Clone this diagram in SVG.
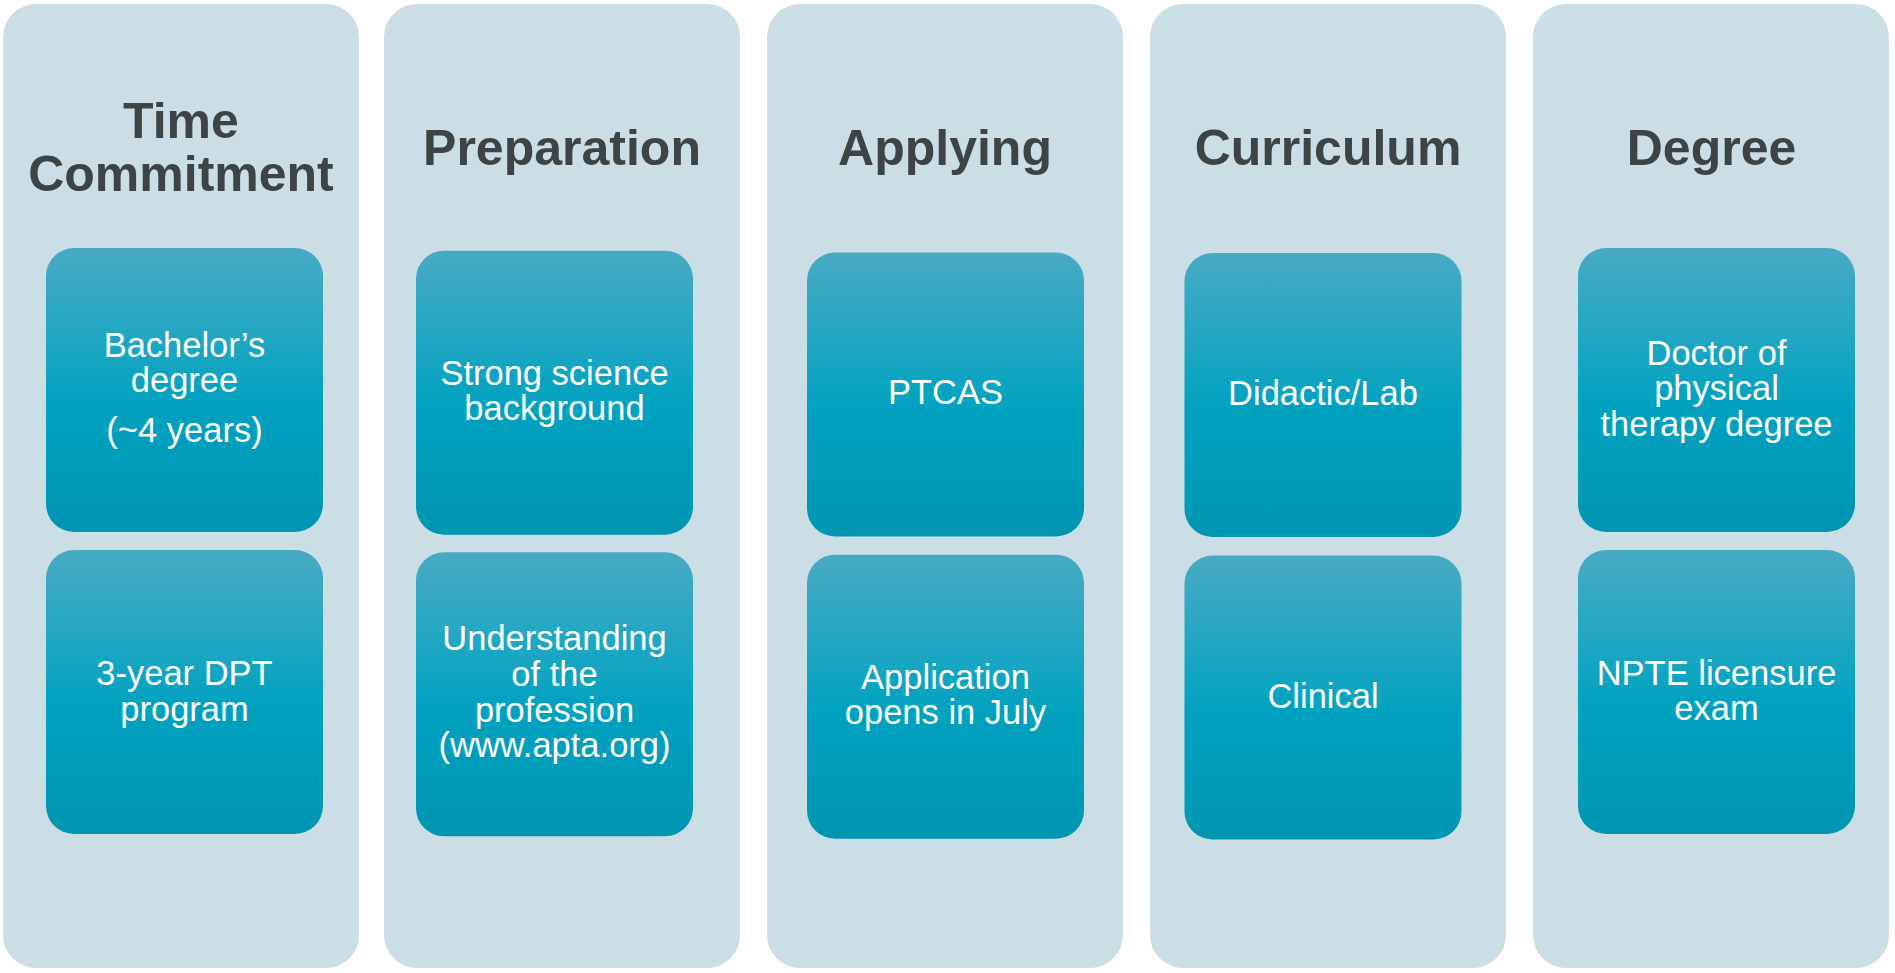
<svg xmlns="http://www.w3.org/2000/svg" width="1895" height="973" viewBox="0 0 1895 973">
<defs>
<linearGradient id="boxgrad" x1="0" y1="0" x2="0" y2="1">
<stop offset="0" stop-color="#48aac3"/>
<stop offset="0.3" stop-color="#22a7c3"/>
<stop offset="0.55" stop-color="#00a2c0"/>
<stop offset="1" stop-color="#0096b2"/>
</linearGradient>
<style>
.col{fill:#cbdee5;}
.box{fill:url(#boxgrad);}
.title{font-family:"Liberation Sans",Arial,sans-serif;font-weight:bold;font-size:50px;fill:#3e4446;text-anchor:middle;}
.txt{font-family:"Liberation Sans",Arial,sans-serif;font-size:34.5px;fill:#ffffff;text-anchor:middle;}
</style>
</defs>
<rect width="1895" height="973" fill="#ffffff"/>

<g id="col-time">
<rect class="col" x="3" y="4" width="356" height="964" rx="33"/>
<text class="title" x="181" y="138">Time</text>
<text class="title" x="181" y="190.7">Commitment</text>
</g>
<g id="node-bachelor">
<rect class="box" x="46" y="248" width="277" height="284" rx="28"/>
<text class="txt" x="184.5" y="357.3">Bachelor’s</text>
<text class="txt" x="184.5" y="392.3">degree</text>
<text class="txt" x="184.5" y="442">(~4 years)</text>
</g>
<g id="node-dpt">
<rect class="box" x="46" y="550" width="277" height="284" rx="28"/>
<text class="txt" x="184.5" y="685">3-year DPT</text>
<text class="txt" x="184.5" y="720.5">program</text>
</g>

<g id="col-preparation">
<rect class="col" x="384" y="4" width="356" height="964" rx="33"/>
<text class="title" x="562" y="165">Preparation</text>
</g>
<g id="node-science">
<rect class="box" x="416" y="250.7" width="277" height="284" rx="28"/>
<text class="txt" x="554.5" y="384.5">Strong science</text>
<text class="txt" x="554.5" y="420.3">background</text>
</g>
<g id="node-understanding">
<rect class="box" x="416" y="552.3" width="277" height="284" rx="28"/>
<text class="txt" x="554.5" y="650">Understanding</text>
<text class="txt" x="554.5" y="685.7">of the</text>
<text class="txt" x="554.5" y="721.5">profession</text>
<text class="txt" x="554.5" y="757.3">(www.apta.org)</text>
</g>

<g id="col-applying">
<rect class="col" x="767" y="4" width="356" height="964" rx="33"/>
<text class="title" x="945" y="165">Applying</text>
</g>
<g id="node-ptcas">
<rect class="box" x="807" y="252.5" width="277" height="284" rx="28"/>
<text class="txt" x="945.5" y="404.3">PTCAS</text>
</g>
<g id="node-application">
<rect class="box" x="807" y="554.7" width="277" height="284" rx="28"/>
<text class="txt" x="945.5" y="689">Application</text>
<text class="txt" x="945.5" y="724">opens in July</text>
</g>

<g id="col-curriculum">
<rect class="col" x="1150" y="4" width="356" height="964" rx="33"/>
<text class="title" x="1328" y="165">Curriculum</text>
</g>
<g id="node-didactic">
<rect class="box" x="1184.5" y="253" width="277" height="284" rx="28"/>
<text class="txt" x="1323" y="405">Didactic/Lab</text>
</g>
<g id="node-clinical">
<rect class="box" x="1184.5" y="555.5" width="277" height="284" rx="28"/>
<text class="txt" x="1323" y="707.5">Clinical</text>
</g>

<g id="col-degree">
<rect class="col" x="1533" y="4" width="356" height="964" rx="33"/>
<text class="title" x="1711.5" y="165">Degree</text>
</g>
<g id="node-doctor">
<rect class="box" x="1578" y="248" width="277" height="284" rx="28"/>
<text class="txt" x="1716.5" y="364.5">Doctor of</text>
<text class="txt" x="1716.5" y="400">physical</text>
<text class="txt" x="1716.5" y="435.5">therapy degree</text>
</g>
<g id="node-npte">
<rect class="box" x="1578" y="550" width="277" height="284" rx="28"/>
<text class="txt" x="1716.5" y="684.5">NPTE licensure</text>
<text class="txt" x="1716.5" y="720">exam</text>
</g>

<g id="connectors"></g>
</svg>
